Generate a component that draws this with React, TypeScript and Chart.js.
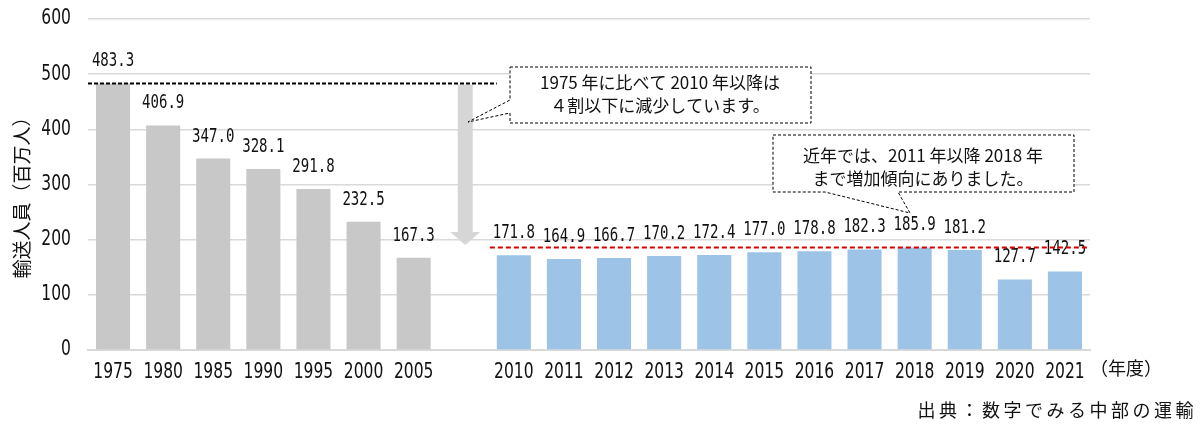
import React, { useEffect, useRef } from "react";
import { Chart, registerables } from "chart.js";

Chart.register(...registerables);

const categories = ["1975", "1980", "1985", "1990", "1995", "2000", "2005", "", "2010", "2011", "2012", "2013", "2014", "2015", "2016", "2017", "2018", "2019", "2020", "2021"];
const passengers: (number | null)[] = [483.3, 406.9, 347.0, 328.1, 291.8, 232.5, 167.3, null, 171.8, 164.9, 166.7, 170.2, 172.4, 177.0, 178.8, 182.3, 185.9, 181.2, 127.7, 142.5];
const barColors = ["#c8c8c8", "#c8c8c8", "#c8c8c8", "#c8c8c8", "#c8c8c8", "#c8c8c8", "#c8c8c8", "#c8c8c8", "#9dc3e6", "#9dc3e6", "#9dc3e6", "#9dc3e6", "#9dc3e6", "#9dc3e6", "#9dc3e6", "#9dc3e6", "#9dc3e6", "#9dc3e6", "#9dc3e6", "#9dc3e6"];
const yTicks = [0, 100, 200, 300, 400, 500, 600];
const refValue1975 = 483.3;
const refValue2018 = 185.9;
const yTitle = "輸送人員（百万人）";
const xUnit = "（年度）";
const sourceText = "出典：数字でみる中部の運輸";
const note1 = ["1975 年に比べて 2010 年以降は", "４割以下に減少しています。"];
const note2 = ["近年では、2011 年以降 2018 年", "まで増加傾向にありました。"];

const JP = '"Noto Sans CJK JP", sans-serif';
const NUM_FONT = '21px "DejaVu Sans", sans-serif';
const NUM_SCALE = 0.74;
const TEXT = "#111";

function drawNarrow(ctx: any, text: string, x: number, y: number, align: string) {
  ctx.save();
  ctx.translate(x, y);
  ctx.scale(NUM_SCALE, 1);
  ctx.font = NUM_FONT;
  ctx.textAlign = align;
  ctx.textBaseline = "middle";
  ctx.fillText(text, 0, 0);
  ctx.restore();
}

const overlay = {
  id: "overlay",
  beforeDatasetsDraw(chart: any) {
    const ctx = chart.ctx;
    const x = chart.scales.x;
    const y = chart.scales.y;
    const cx = x.getPixelForValue(7) + 1.5;
    const yTop = y.getPixelForValue(refValue1975) + 1;
    const headTop = 232;
    const tip = 245;
    ctx.save();
    ctx.fillStyle = "#d6d6d6";
    ctx.beginPath();
    ctx.moveTo(cx - 7.5, yTop);
    ctx.lineTo(cx + 7.5, yTop);
    ctx.lineTo(cx + 7.5, headTop);
    ctx.lineTo(cx + 15, headTop);
    ctx.lineTo(cx, tip);
    ctx.lineTo(cx - 15, headTop);
    ctx.lineTo(cx - 7.5, headTop);
    ctx.closePath();
    ctx.fill();
    ctx.restore();
  },
  afterDraw(chart: any) {
    const ctx = chart.ctx;
    const x = chart.scales.x;
    const y = chart.scales.y;
    const area = chart.chartArea;
    ctx.save();
    ctx.fillStyle = TEXT;

    // axis tick labels (from the library's scales)
    y.ticks.forEach((t: any, i: number) => {
      drawNarrow(ctx, String(t.value), area.left - 17, y.getPixelForTick(i), "right");
    });
    x.ticks.forEach((t: any, i: number) => {
      const lbl = categories[i];
      if (lbl) drawNarrow(ctx, lbl, x.getPixelForTick(i), area.bottom + 23, "center");
    });

    // data labels
    const meta = chart.getDatasetMeta(0);
    meta.data.forEach((bar: any, i: number) => {
      const v = passengers[i];
      if (v == null) return;
      ctx.save();
      ctx.translate(bar.x, bar.y - 22);
      ctx.scale(0.74, 1);
      ctx.font = '19px "DejaVu Sans Mono", monospace';
      ctx.textAlign = "center";
      ctx.textBaseline = "middle";
      ctx.fillText(v.toFixed(1), 0, 0);
      ctx.restore();
    });

    // black dashed reference line
    const y1 = y.getPixelForValue(refValue1975);
    ctx.strokeStyle = "#000";
    ctx.lineWidth = 2;
    ctx.setLineDash([4, 2]);
    ctx.beginPath();
    ctx.moveTo(area.left, y1);
    ctx.lineTo(x.getPixelForValue(7) + 33, y1);
    ctx.stroke();

    // red dashed reference line
    const y2 = y.getPixelForValue(refValue2018);
    ctx.strokeStyle = "#d40000";
    ctx.setLineDash([5, 3]);
    ctx.beginPath();
    ctx.moveTo(x.getPixelForValue(8) - 24, y2);
    ctx.lineTo(area.right - 3, y2);
    ctx.stroke();

    // callouts
    ctx.setLineDash([3, 2]);
    ctx.lineWidth = 1;
    ctx.strokeStyle = "#000";
    ctx.fillStyle = "#fff";
    ctx.beginPath();
    ctx.moveTo(510, 67);
    ctx.lineTo(811, 67);
    ctx.lineTo(811, 123);
    ctx.lineTo(510, 123);
    ctx.lineTo(510, 113);
    ctx.lineTo(468, 122);
    ctx.lineTo(510, 100);
    ctx.closePath();
    ctx.fill();
    ctx.stroke();

    ctx.beginPath();
    ctx.moveTo(773, 135);
    ctx.lineTo(1074, 135);
    ctx.lineTo(1074, 192);
    ctx.lineTo(898, 192);
    ctx.lineTo(910, 213);
    ctx.lineTo(825, 192);
    ctx.lineTo(773, 192);
    ctx.closePath();
    ctx.fill();
    ctx.stroke();
    ctx.setLineDash([]);

    ctx.fillStyle = TEXT;
    ctx.font = "17px " + JP;
    ctx.textAlign = "center";
    ctx.textBaseline = "middle";
    ctx.fillText(note1[0], 660, 83);
    ctx.fillText(note1[1], 660, 106);
    ctx.fillText(note2[0], 923, 156);
    ctx.fillText(note2[1], 923, 179);

    // y title
    ctx.save();
    ctx.translate(22, 193);
    ctx.rotate(-Math.PI / 2);
    ctx.font = "19px " + JP;
    ctx.fillText(yTitle, 0, 0);
    ctx.restore();

    // x unit
    ctx.textAlign = "left";
    ctx.font = "18px " + JP;
    ctx.fillText(xUnit, 1090, 368);

    // source
    ctx.textAlign = "right";
    ctx.font = "18px " + JP;
    (ctx as any).letterSpacing = "3.5px";
    ctx.fillText(sourceText, 1197, 410);
    (ctx as any).letterSpacing = "0px";

    ctx.restore();
  },
};

export default function App() {
  const ref = useRef<HTMLCanvasElement>(null);
  useEffect(() => {
    if (!ref.current) return;
    const chart = new Chart(ref.current, {
      type: "bar",
      data: {
        labels: categories,
        datasets: [
          {
            data: passengers,
            backgroundColor: barColors,
            categoryPercentage: 1,
            barPercentage: 0.68,
          },
        ],
      },
      options: {
        responsive: false,
        animation: false,
        devicePixelRatio: 1,
        layout: { padding: { top: 19, right: 113, left: 0, bottom: 0 } },
        plugins: { legend: { display: false }, tooltip: { enabled: false } },
        scales: {
          x: {
            grid: { display: false, drawTicks: false },
            border: { display: true, color: "#d9d9d9", width: 2 },
            ticks: { color: "rgba(0,0,0,0)", font: { size: 20 }, padding: 11, maxRotation: 0, autoSkip: false },
            afterFit: (s: any) => { s.height = 74; },
          },
          y: {
            min: 0,
            max: 600,
            afterBuildTicks: (s: any) => { s.ticks = yTicks.map((v) => ({ value: v })); },
            grid: { color: "#d9d9d9", lineWidth: 1.5, drawTicks: false },
            border: { display: false },
            ticks: { color: "rgba(0,0,0,0)", font: { size: 1 }, padding: 17 },
            afterFit: (s: any) => { s.width = 88; },
          },
        },
      },
      plugins: [overlay],
    });
    return () => chart.destroy();
  }, []);
  return (
    <div style={{ position: "fixed", left: 0, top: 0, width: 1203, height: 424, background: "#fff" }}>
      <canvas ref={ref} width={1203} height={424} style={{ width: 1203, height: 424 }} />
    </div>
  );
}
